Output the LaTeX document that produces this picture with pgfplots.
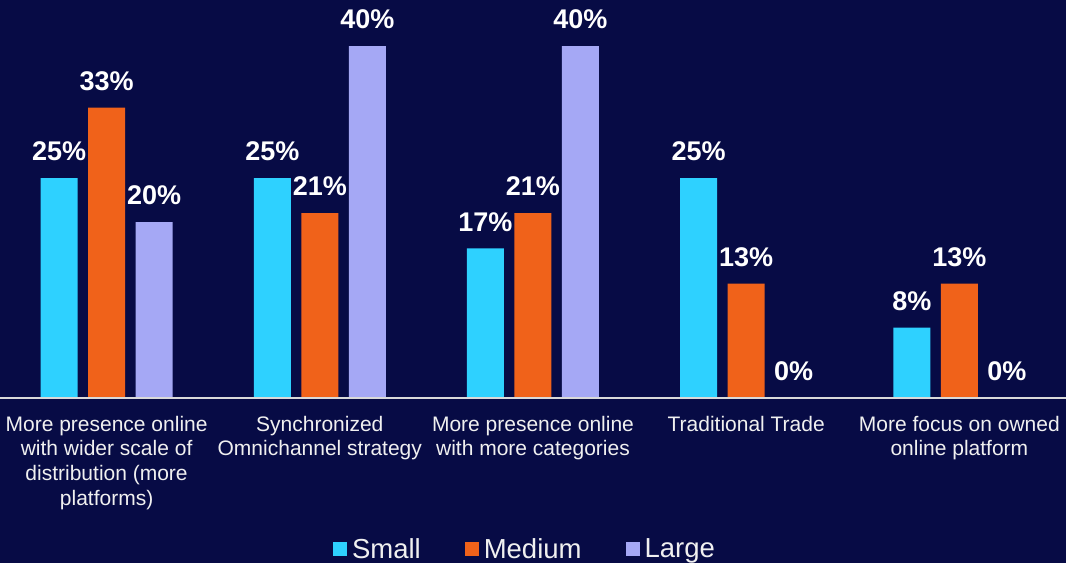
\documentclass[border=0pt]{standalone}
\usepackage{pgfplots}
\pgfplotsset{compat=1.18}
\usepackage{fontspec}
\setmainfont{Liberation Sans}
\definecolor{bg}{HTML}{070B45}
\definecolor{cSmall}{HTML}{2ED1FF}
\definecolor{cMedium}{HTML}{F0621A}
\definecolor{cLarge}{HTML}{A5A8F5}
\definecolor{axisline}{HTML}{D9D9D9}
\begin{document}
\begin{tikzpicture}
\fill[bg] (0,-165pt) rectangle (1066pt,398pt);
\begin{axis}[
  at={(0,0)}, anchor=south west,
  scale only axis,
  width=1066pt, height=398pt,
  xmin=-0.5, xmax=4.5,
  ymin=0, ymax=45.23,
  axis line style={draw=none},
  axis x line*=bottom,
  hide y axis,
  ybar,
  bar width=37pt,
  /pgf/number format/assume math mode=true,
  xtick={0,1,2,3,4},
  xtick style={draw=none},
  xticklabels={
    {More presence online\\with wider scale of\\distribution (more\\platforms)},
    {Synchronized\\Omnichannel strategy},
    {More presence online\\with more categories},
    {Traditional Trade},
    {More focus on owned\\online platform}},
  xticklabel style={align=center, font=\fontsize{21pt}{24.7pt}\selectfont, text=white!94!black, yshift=-10pt},
  nodes near coords={\pgfmathprintnumber{\pgfplotspointmeta}\%},
  nodes near coords style={font=\fontsize{27pt}{30pt}\selectfont\bfseries, text=white, anchor=south, inner sep=0pt, yshift=17pt},
  legend columns=3,
  legend style={at={(0.4925,-0.379)}, anchor=center, draw=none, fill=none,
    font=\fontsize{27.5pt}{30pt}\selectfont, text=white!94!black,
    /tikz/every odd column/.append style={column sep=3pt},
    /tikz/every even column/.append style={column sep=42pt}},
  legend image code/.code={\fill[#1] (0pt,-7pt) rectangle (14pt,7pt);},
  clip=false,
]
\addplot[fill=cSmall, draw=none, bar shift=-47.5pt] coordinates {(0,25) (1,25) (2,17) (3,25) (4,8)};
\addplot[fill=cMedium, draw=none, bar shift=0pt] coordinates {(0,33) (1,21) (2,21) (3,13) (4,13)};
\addplot[fill=cLarge, draw=none, bar shift=47.5pt] coordinates {(0,20) (1,40) (2,40) (3,0) (4,0)};
\legend{Small, Medium, Large}
\draw[axisline, line width=2pt] (rel axis cs:0,0) -- (rel axis cs:1,0);
\end{axis}
\pgfresetboundingbox
\path (0,-165pt) rectangle (1066pt,398pt);
\end{tikzpicture}
\end{document}
